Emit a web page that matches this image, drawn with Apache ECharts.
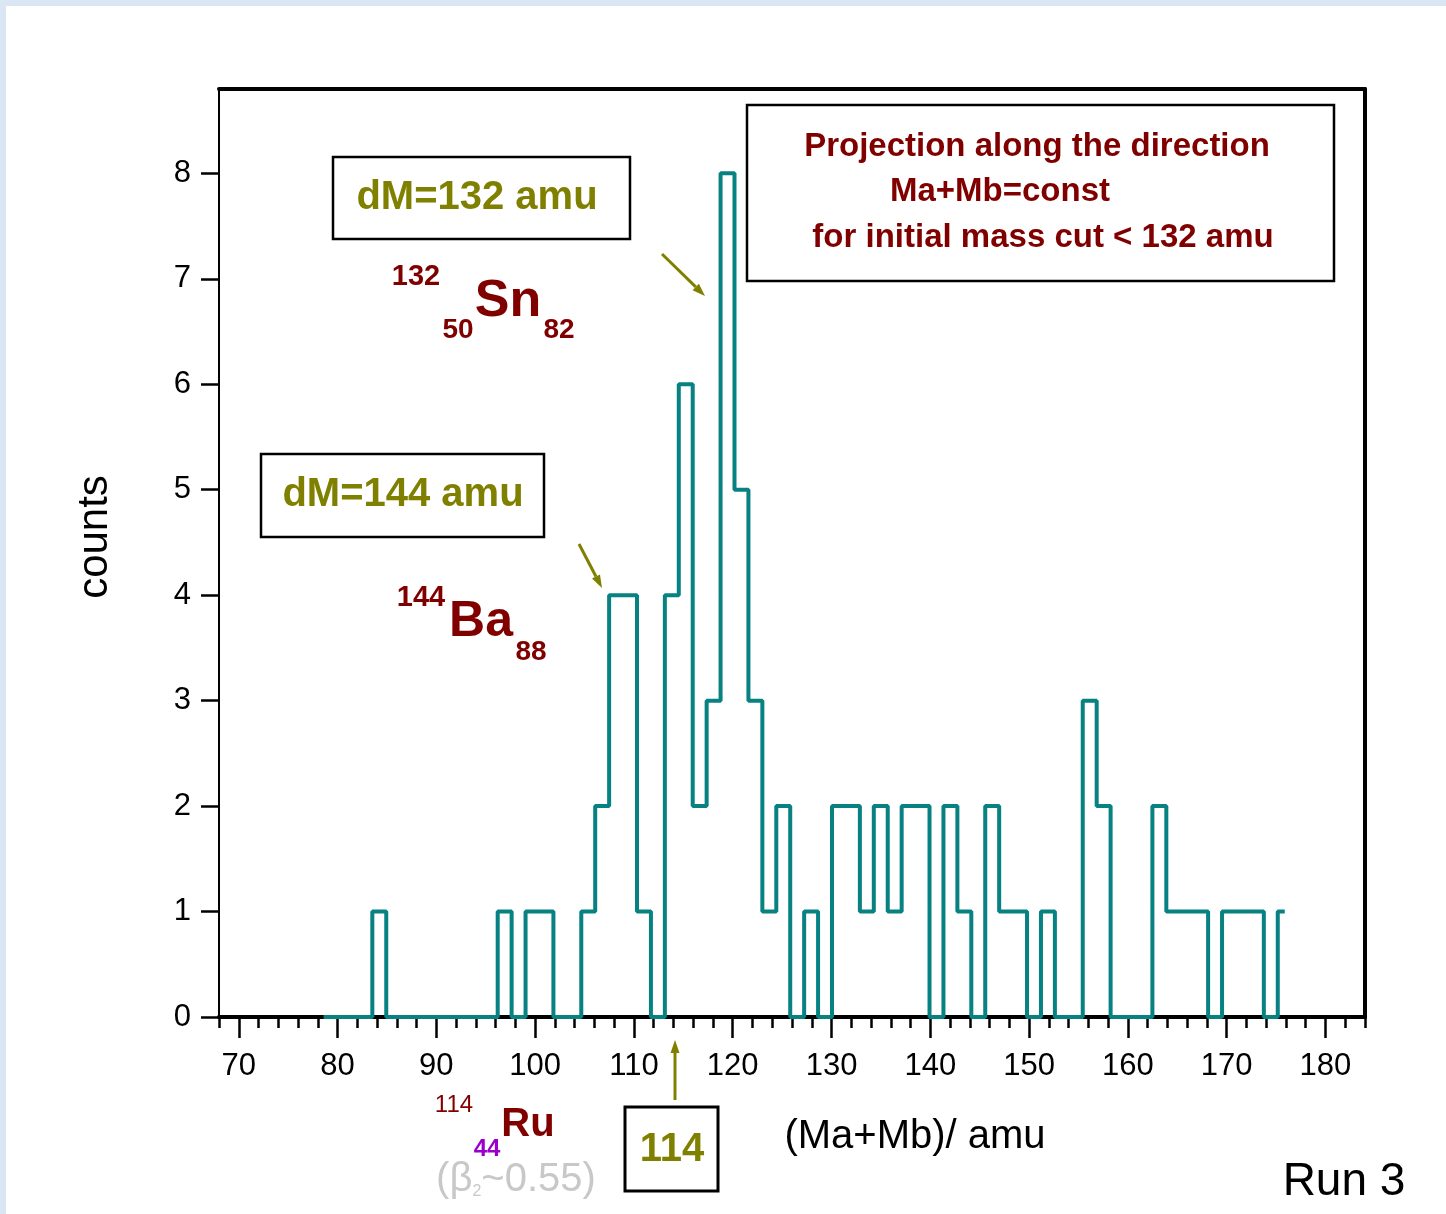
<!DOCTYPE html>
<html>
<head>
<meta charset="utf-8">
<script src="https://cdn.jsdelivr.net/npm/echarts@6/dist/echarts.min.js"></script>
<style>
  html, body { margin: 0; padding: 0; background: #dbe6f4; }
  #paper { position: absolute; left: 6px; top: 6px; width: 1440px; height: 1208px; background: #ffffff; }
  #chart { position: absolute; left: 0; top: 0; width: 1446px; height: 1214px; }
</style>
</head>
<body>
<div id="paper"></div>
<div id="chart"></div>
<script>
// ---- data ----
const binStart = 77.88;      // left edge of the first bin (amu)
const binWidth = 1.41;       // bin width (amu)
const counts = [0,0,0,0, 1, 0,0,0,0,0,0,0,0, 1, 0, 1,1, 0,0, 1, 2, 4,4, 1, 0,
  4, 6, 2, 3, 8, 5, 3, 1, 2, 0, 1, 0, 2,2, 1, 2, 1, 2,2, 0, 2, 1, 0, 2, 1,1,
  0, 1, 0,0, 3, 2, 0,0,0, 2, 1,1,1, 0, 1,1,1, 0, 1];
const xTickLabels = [70, 80, 90, 100, 110, 120, 130, 140, 150, 160, 170, 180];
const xMinorTicks = [68, 72, 74, 76, 78, 82, 84, 86, 88, 92, 94, 96, 98, 102, 104, 106, 108,
  112, 114, 116, 118, 122, 124, 126, 128, 132, 134, 136, 138, 142, 144, 146, 148,
  152, 154, 156, 158, 162, 164, 166, 168, 172, 174, 176, 178, 182, 184];
const yTickLabels = [0, 1, 2, 3, 4, 5, 6, 7, 8];

const seriesData = counts.map((c, i) => [binStart + (i + 0.5) * binWidth, c]);

const FONT = 'Liberation Sans, Arial, sans-serif';
const OLIVE = '#808000';
const DARKRED = '#800000';

function txt(text, x, y, size, color, bold, extra) {
  return Object.assign({
    type: 'text', x: x, y: y, z: 20,
    style: { text: text, fill: color, font: (bold ? 'bold ' : '') + size + 'px ' + FONT,
             align: 'center', verticalAlign: 'middle' }
  }, extra || {});
}
function box(x, y, w, h, lw) {
  return { type: 'rect', z: 15, shape: { x: x, y: y, width: w, height: h },
           style: { fill: 'rgba(255,255,255,0)', stroke: '#000', lineWidth: lw || 2.5 } };
}
function arrow(x1, y1, x2, y2) {
  const dx = x2 - x1, dy = y2 - y1, L = Math.sqrt(dx * dx + dy * dy);
  const ux = dx / L, uy = dy / L, hl = 13, hw = 4.5;
  const bx = x2 - ux * hl, by = y2 - uy * hl;
  return [
    { type: 'line', z: 16, shape: { x1: x1, y1: y1, x2: bx, y2: by },
      style: { stroke: OLIVE, lineWidth: 3 } },
    { type: 'polygon', z: 16,
      shape: { points: [[x2, y2], [bx - uy * hw, by + ux * hw], [bx + uy * hw, by - ux * hw]] },
      style: { fill: OLIVE } }
  ];
}

const graphics = [].concat(
  [box(333, 157, 297, 82), txt('dM=132 amu', 477, 198, 40, OLIVE, true)],
  [txt('132', 416, 277, 29, DARKRED, true), txt('Sn', 508, 302, 52, DARKRED, true),
   txt('50', 458, 330, 28, DARKRED, true), txt('82', 559, 330, 28, DARKRED, true)],
  arrow(662, 254, 705, 296),
  [box(261, 454, 283, 83), txt('dM=144 amu', 403, 495, 40, OLIVE, true)],
  [txt('144', 421, 598, 29, DARKRED, true), txt('Ba', 481, 622, 50, DARKRED, true),
   txt('88', 531, 652, 28, DARKRED, true)],
  arrow(579, 544, 602, 588),
  [box(747, 105, 587, 176),
   txt('Projection along the direction', 1037, 147, 33, DARKRED, true),
   txt('Ma+Mb=const', 1000, 192, 33, DARKRED, true),
   txt('for initial mass cut < 132 amu', 1043, 238, 33, DARKRED, true)],
  arrow(675, 1100, 675, 1040),
  [box(625, 1107, 93, 84, 3), txt('114', 672, 1150, 40, OLIVE, true)],
  [txt('114', 454, 1105, 24, DARKRED, false), txt('Ru', 528, 1125, 40, DARKRED, true),
   txt('44', 487, 1149, 24, '#9900cc', true),
   { type: 'text', x: 516, y: 1180, z: 20,
     style: { text: '{a|(β}{s|2}{a|~0.55)}', align: 'center', verticalAlign: 'middle',
              rich: { a: { fontSize: 40, fontFamily: FONT, fill: '#c8c8c8', color: '#c8c8c8' },
                      s: { fontSize: 16, fontFamily: FONT, fill: '#c8c8c8', color: '#c8c8c8',
                           verticalAlign: 'bottom', padding: [22, 0, 0, 0] } } } }],
  [txt('counts', 95, 537, 42, '#000', false, { rotation: Math.PI / 2 }),
   txt('(Ma+Mb)/ amu', 915, 1137, 40, '#000', false),
   txt('Run 3', 1344, 1182, 46, '#000', false)]
);

const chart = echarts.init(document.getElementById('chart'), null, { renderer: 'canvas' });
chart.setOption({
  animation: false,
  backgroundColor: 'transparent',
  grid: { left: 219, top: 89, width: 1146, height: 928 },
  xAxis: [
    { type: 'value', min: 68, max: 184, position: 'bottom',
      axisLine: { show: true, onZero: false, lineStyle: { color: '#000', width: 4 } },
      axisTick: { show: true, customValues: xTickLabels, length: 21, lineStyle: { color: '#000', width: 2.5 } },
      axisLabel: { show: true, customValues: xTickLabels, margin: 34, fontSize: 31, color: '#000', fontFamily: FONT },
      splitLine: { show: false } },
    { type: 'value', min: 68, max: 184, position: 'bottom',
      axisLine: { show: false },
      axisTick: { show: true, customValues: xMinorTicks, length: 11, lineStyle: { color: '#000', width: 2.5 } },
      axisLabel: { show: false }, splitLine: { show: false } },
    { type: 'value', min: 68, max: 184, position: 'top',
      axisLine: { show: true, onZero: false, lineStyle: { color: '#000', width: 4 } },
      axisTick: { show: false }, axisLabel: { show: false }, splitLine: { show: false } }
  ],
  yAxis: [
    { type: 'value', min: 0, max: 8.8, position: 'left',
      axisLine: { show: true, onZero: false, lineStyle: { color: '#000', width: 2 } },
      axisTick: { show: true, customValues: yTickLabels, length: 18, lineStyle: { color: '#000', width: 2.5 } },
      axisLabel: { show: true, customValues: yTickLabels, margin: 28, fontSize: 31, color: '#000', fontFamily: FONT },
      splitLine: { show: false } },
    { type: 'value', min: 0, max: 8.8, position: 'right',
      axisLine: { show: true, onZero: false, lineStyle: { color: '#000', width: 4 } },
      axisTick: { show: false }, axisLabel: { show: false }, splitLine: { show: false } }
  ],
  series: [{
    type: 'line', step: 'middle', data: seriesData, xAxisIndex: 0, yAxisIndex: 0,
    showSymbol: false, symbol: 'none', clip: false, z: 5,
    lineStyle: { color: '#078181', width: 4 }
  }],
  graphic: graphics
});
</script>
</body>
</html>
